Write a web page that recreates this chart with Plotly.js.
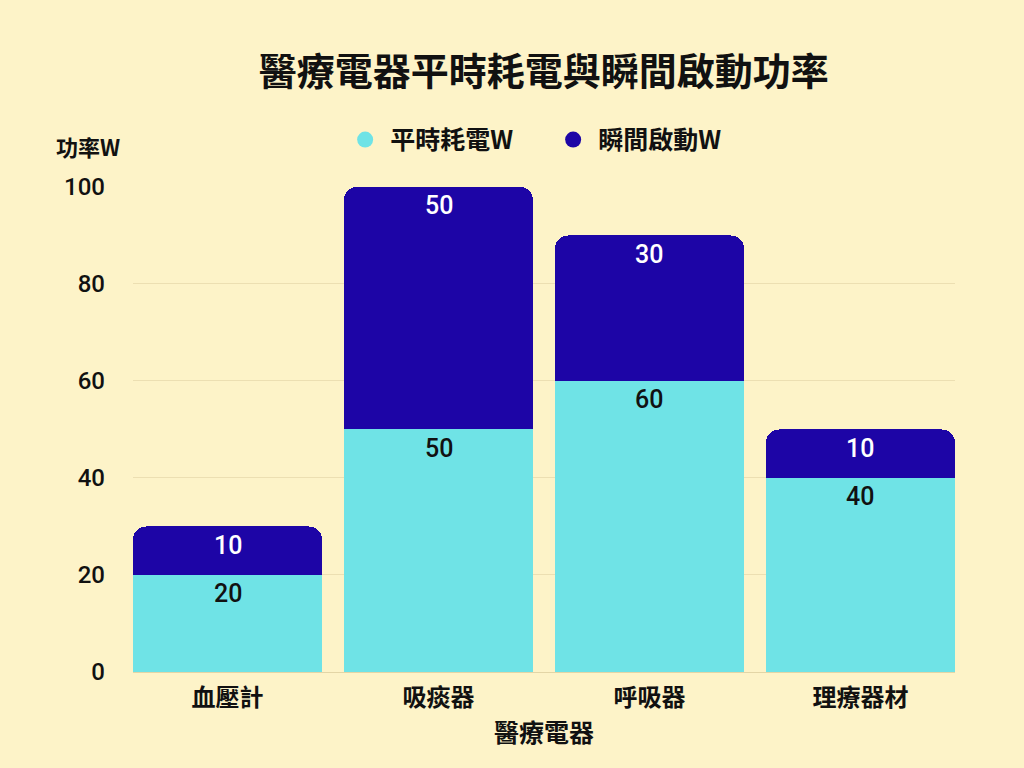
<!DOCTYPE html>
<html><head><meta charset="utf-8">
<script src="https://cdn.plot.ly/plotly-3.0.1.min.js"></script>
<style>html,body{margin:0;padding:0;background:#fdf3c8;}</style>
</head><body>
<div id="chart" style="width:1024px;height:768px;"></div>
<script>
const categories = ['血壓計', '吸痰器', '呼吸器', '理療器材'];
const idleValues = [20, 50, 60, 40];
const surgeValues = [10, 50, 30, 10];
const seriesNames = ['平時耗電W', '瞬間啟動W'];
const yTicks = [0, 20, 40, 60, 80, 100];

const cyan = '#6fe3e6';
const navy = '#1d05a6';
const cjk = '"Noto Sans CJK TC", "Noto Sans CJK SC", sans-serif';
const num = 'Roboto, Lato, sans-serif';

const traces = [
  {type:'bar', x:categories, y:idleValues, name:seriesNames[0], marker:{color:cyan},
   showlegend:false, hoverinfo:'skip'},
  {type:'bar', x:categories, y:surgeValues, name:seriesNames[1], marker:{color:navy},
   showlegend:false, hoverinfo:'skip'},
  {type:'scatter', mode:'markers', x:[null], y:[null], name:seriesNames[0],
   marker:{color:cyan, size:25, symbol:'circle'}, showlegend:true},
  {type:'scatter', mode:'markers', x:[null], y:[null], name:seriesNames[1],
   marker:{color:navy, size:25, symbol:'circle'}, showlegend:true}
];

// value labels, placed just inside the top of each segment
const labelAnns = [];
categories.forEach((c, i) => {
  labelAnns.push({x:c, y:idleValues[i], xref:'x', yref:'y', text:String(idleValues[i]),
    showarrow:false, yanchor:'middle', yshift:-19,
    font:{family:num, size:25, color:'#111', weight:500}});
  labelAnns.push({x:c, y:idleValues[i] + surgeValues[i], xref:'x', yref:'y', text:String(surgeValues[i]),
    showarrow:false, yanchor:'middle', yshift:-19,
    font:{family:num, size:25, color:'#ffffff', weight:500}});
});

const layout = {
  width:1024, height:768,
  paper_bgcolor:'#fdf3c8', plot_bgcolor:'#fdf3c8',
  barmode:'stack', bargap:0.104, barcornerradius:13,
  margin:{l:133, r:69, t:186, b:96},
  title:{text:'醫療電器平時耗電與瞬間啟動功率', x:0.531, xanchor:'center', y:0.906, yanchor:'middle',
         font:{family:cjk, size:38, color:'#111', weight:700}},
  legend:{orientation:'h', x:0.252, xanchor:'left', y:1.095, yanchor:'middle',
          font:{family:cjk, size:25, color:'#111', weight:700}, itemsizing:'trace', bgcolor:'rgba(0,0,0,0)',
          traceorder:'normal', itemwidth:40, entrywidth:153},
  xaxis:{type:'category', range:[-0.448, 3.448],
         tickfont:{family:cjk, size:24, color:'#111', weight:700}, ticklabelstandoff:9,
         title:{text:'醫療電器', font:{family:cjk, size:25, color:'#111', weight:700}, standoff:12},
         showline:false, ticks:'', fixedrange:true},
  yaxis:{range:[0,100.2], tickvals:yTicks, ticktext:yTicks.map(String),
         tickfont:{family:num, size:24, color:'#111', weight:500}, gridcolor:'#ecdfb2', gridwidth:1,
         zeroline:true, zerolinecolor:'#e3d5a6', showline:false, ticks:'', ticklabelstandoff:27, fixedrange:true},
  annotations:[{text:'功率W', xref:'paper', yref:'paper', x:-0.055, y:1.082, xanchor:'center', yanchor:'middle',
                showarrow:false, font:{family:cjk, size:22, color:'#111', weight:700}}].concat(labelAnns),
  font:{family:cjk}
};

Plotly.newPlot('chart', traces, layout, {displayModeBar:false, staticPlot:true});
</script>
</body></html>
